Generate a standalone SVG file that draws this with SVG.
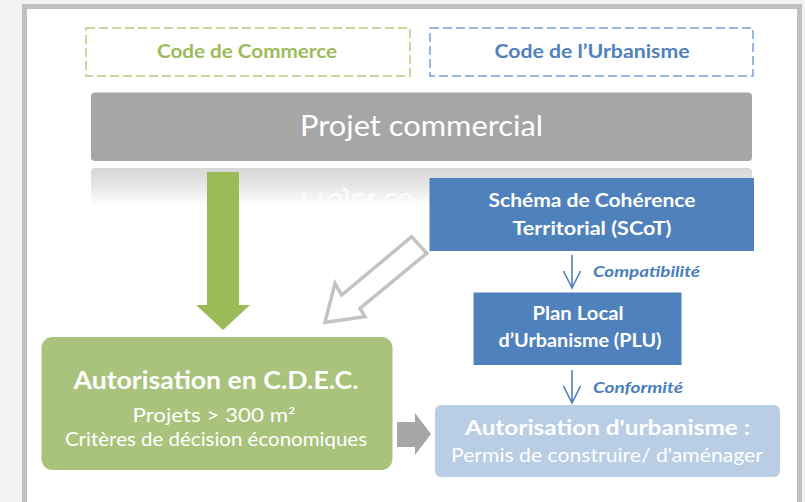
<svg xmlns="http://www.w3.org/2000/svg" width="805" height="502" viewBox="0 0 805 502">
  <defs>
    <linearGradient id="refl" x1="0" y1="0" x2="0" y2="1">
      <stop offset="0" stop-color="#d6d6d6"/>
      <stop offset="0.25" stop-color="#e6e6e6"/>
      <stop offset="0.55" stop-color="#ffffff"/>
      <stop offset="1" stop-color="#ffffff"/>
    </linearGradient>
    <clipPath id="reflClip">
      <rect x="91" y="168" width="336" height="37"/>
    </clipPath>
    <style>
      text { font-family: Lato, "Open Sans", "Liberation Sans", sans-serif; }
      .lbl { font-size: 19px; font-weight: bold; text-anchor: middle; }
      .w { fill: #ffffff; }
      .mid { text-anchor: middle; }
      .b { font-weight: bold; }
      .rel { font-size: 15px; font-weight: bold; font-style: italic; fill: #4a7dbb; }
      .dash { fill: none; stroke-width: 1.5; stroke-dasharray: 9 4; }
      .blue { fill: #4f81bd; }
      .thin { fill: none; stroke: #4f81bd; stroke-width: 1.6; }
    </style>
  </defs>

  <!-- background and panel -->
  <rect x="0" y="0" width="805" height="502" fill="#f2f2f2"/>
  <rect x="24.5" y="6.5" width="775" height="520" fill="#ffffff" stroke="#c0c0c0" stroke-width="5"/>

  <g id="code-commerce">
    <rect class="dash" x="86" y="28" width="324" height="48" stroke="#b1cd7f"/>
    <text class="lbl" x="247" y="58" fill="#9bbb59" textLength="180" lengthAdjust="spacingAndGlyphs">Code de Commerce</text>
  </g>

  <g id="code-urbanisme">
    <rect class="dash" x="430" y="28" width="323" height="48" stroke="#7aa1d3"/>
    <text class="lbl" x="592" y="58" fill="#4f81bd" textLength="195" lengthAdjust="spacingAndGlyphs">Code de l’Urbanisme</text>
  </g>

  <g id="projet-commercial">
    <rect x="91" y="92.5" width="661" height="68.5" rx="4" fill="#a6a6a6"/>
    <text class="w mid" x="421.5" y="136" font-size="29" textLength="243" lengthAdjust="spacingAndGlyphs">Projet commercial</text>
    <!-- reflection -->
    <rect x="91" y="168" width="661" height="69" rx="4" fill="url(#refl)"/>
    <g clip-path="url(#reflClip)">
      <g transform="translate(0,329) scale(1,-1)" opacity="0.9">
        <text class="w" x="300" y="136" font-size="29">Projet co</text>
      </g>
    </g>
  </g>

  <g id="scot">
    <rect class="blue" x="429.5" y="178" width="324.5" height="73"/>
    <text class="w mid b" x="592" y="207" font-size="19" textLength="207" lengthAdjust="spacingAndGlyphs">Schéma de Cohérence</text>
    <text class="w mid b" x="592" y="235" font-size="19" textLength="159" lengthAdjust="spacingAndGlyphs">Territorial (SCoT)</text>
  </g>

  <g id="plu">
    <rect class="blue" x="473.5" y="292.5" width="208" height="72.5"/>
    <text class="w mid b" x="578" y="320" font-size="19" textLength="91" lengthAdjust="spacingAndGlyphs">Plan Local</text>
    <text class="w mid b" x="580" y="347" font-size="19" textLength="163" lengthAdjust="spacingAndGlyphs">d’Urbanisme (PLU)</text>
  </g>

  <g id="cdec">
    <rect x="41.5" y="337" width="351" height="133" rx="11" fill="#a9c27c"/>
    <text class="w mid b" x="216" y="389" font-size="24.5" textLength="285" lengthAdjust="spacingAndGlyphs">Autorisation en C.D.E.C.</text>
    <text class="w mid" x="214" y="422" font-size="18.5" textLength="163" lengthAdjust="spacingAndGlyphs">Projets &gt; 300 m²</text>
    <text class="w mid" x="216" y="446" font-size="18.5" textLength="302" lengthAdjust="spacingAndGlyphs">Critères de décision économiques</text>
  </g>

  <g id="autorisation-urbanisme">
    <rect x="435" y="405" width="345" height="72" rx="6" fill="#b9cde5"/>
    <text class="w mid b" x="607.5" y="435" font-size="20" textLength="285" lengthAdjust="spacingAndGlyphs">Autorisation d'urbanisme :</text>
    <text class="w mid" x="607" y="462" font-size="18.5" textLength="312" lengthAdjust="spacingAndGlyphs">Permis de construire/ d'aménager</text>
  </g>

  <g id="connectors">
    <!-- green block arrow: Projet commercial -> C.D.E.C. -->
    <polygon points="207,172 239,172 239,305 250,305 223,330 196,305 207,305" fill="#9bbb59"/>
    <!-- hollow arrow: SCoT -> C.D.E.C. -->
    <polygon points="411.7,236.7 426.7,253.3 360,308.3 365,316.7 325,322.3 335,283.3 341.7,295" fill="#ffffff" stroke="#c3c3c3" stroke-width="3.5" stroke-linejoin="miter"/>
    <!-- gray block arrow: C.D.E.C. -> Autorisation d'urbanisme -->
    <polygon points="397,422 415,422 415,413 431,434 415,455 415,447 397,447" fill="#a6a6a6"/>
    <!-- Compatibilité -->
    <path class="thin" d="M572,255 V288 M563.5,271 L572,288 L580.5,271"/>
    <text class="rel" x="593" y="277" textLength="107" lengthAdjust="spacingAndGlyphs">Compatibilité</text>
    <!-- Conformité -->
    <path class="thin" d="M572,370 V403 M563.5,386 L572,403 L580.5,386"/>
    <text class="rel" x="593" y="393" textLength="90" lengthAdjust="spacingAndGlyphs">Conformité</text>
  </g>
</svg>
